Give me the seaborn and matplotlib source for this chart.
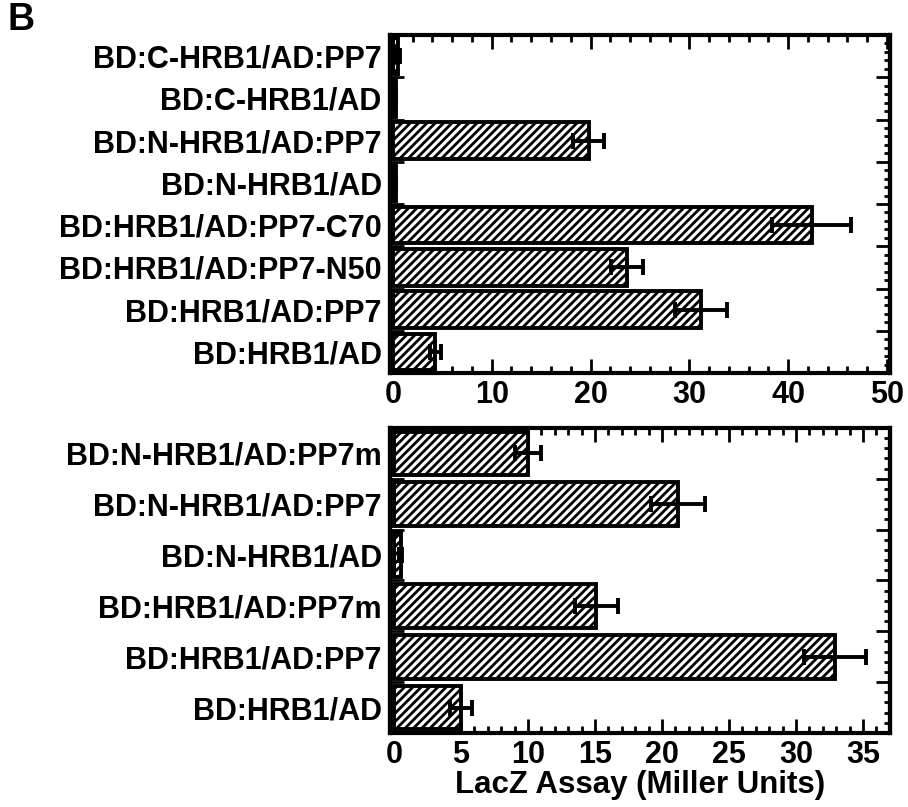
import numpy as np
import pandas as pd
import matplotlib
matplotlib.use("Agg")
import matplotlib.pyplot as plt
import seaborn as sns
from matplotlib.ticker import MultipleLocator

sns.set_style("white")
plt.rcParams['font.family'] = ['Liberation Sans', 'DejaVu Sans']
plt.rcParams['font.weight'] = 'bold'
plt.rcParams['hatch.linewidth'] = 2.0
plt.rcParams['text.color'] = 'black'
plt.rcParams['axes.labelcolor'] = 'black'
plt.rcParams['xtick.color'] = 'black'
plt.rcParams['ytick.color'] = 'black'

# ---- data ----
top_labels = ["BD:C-HRB1/AD:PP7", "BD:C-HRB1/AD", "BD:N-HRB1/AD:PP7", "BD:N-HRB1/AD",
              "BD:HRB1/AD:PP7-C70", "BD:HRB1/AD:PP7-N50", "BD:HRB1/AD:PP7", "BD:HRB1/AD"]
top_vals = [0.5, 0.3, 19.8, 0.3, 42.4, 23.7, 31.2, 4.3]
top_errs = [0.2, 0.0, 1.6, 0.0, 4.0, 1.6, 2.6, 0.6]

bot_labels = ["BD:N-HRB1/AD:PP7m", "BD:N-HRB1/AD:PP7", "BD:N-HRB1/AD",
              "BD:HRB1/AD:PP7m", "BD:HRB1/AD:PP7", "BD:HRB1/AD"]
bot_vals = [10.0, 21.2, 0.5, 15.1, 32.9, 5.0]
bot_errs = [1.0, 2.0, 0.1, 1.6, 2.3, 0.8]

xlabel = "LacZ Assay (Miller Units)"

FS = 22

fig = plt.figure(figsize=(9.08, 8.07), dpi=100)
ax1 = fig.add_axes([0.4295, 0.5378, 0.5505, 0.4188])
ax2 = fig.add_axes([0.4295, 0.0917, 0.5505, 0.3780])


def draw(ax, labels, vals, errs, xlim, major, minor):
    df = pd.DataFrame({"label": labels, "value": vals})
    sns.barplot(data=df, x="value", y="label", orient="h", color="white",
                edgecolor="black", linewidth=2.8, hatch="////", width=0.86,
                errorbar=None, ax=ax)
    n = len(labels)
    ax.errorbar(vals, np.arange(n), xerr=errs, fmt="none", ecolor="black",
                elinewidth=2.8, capsize=6, capthick=2.8, zorder=5)
    ax.set_xlim(*xlim)
    ax.set_ylim(n - 0.5, -0.5)
    ax.set_ylabel("")
    ax.set_xlabel("")
    for s in ax.spines.values():
        s.set_visible(True)
        s.set_linewidth(3)
        s.set_color("black")
    ax.xaxis.set_major_locator(MultipleLocator(major))
    ax.xaxis.set_minor_locator(MultipleLocator(minor))
    ax.tick_params(axis="x", which="both", direction="in", top=True, bottom=True,
                   labelsize=FS, pad=5, color="black", labelcolor="black", width=2)
    ax.tick_params(axis="x", which="major", length=10)
    ax.tick_params(axis="x", which="minor", length=5)
    for t in ax.get_xticklabels():
        t.set_fontweight("bold")
    ax.tick_params(axis="y", which="major", length=0, labelsize=FS, pad=6,
                   labelcolor="black")
    for t in ax.get_yticklabels():
        t.set_fontweight("bold")
    bounds = np.arange(n - 1) + 0.5
    fine = np.arange(-0.5, n - 0.5 + 1e-9, 0.2)
    for side in ("left", "right"):
        sec = ax.secondary_yaxis(side)
        sec.set_yticks(bounds)
        sec.set_yticks(fine, minor=True)
        sec.spines[side].set_linewidth(3)
        sec.tick_params(axis="y", which="both", direction="in", width=2,
                        color="black", labelleft=False, labelright=False)
        sec.tick_params(axis="y", which="major", length=10)
        sec.tick_params(axis="y", which="minor", length=4)


draw(ax1, top_labels, top_vals, top_errs, (-0.3, 50.3), 10, 2)
draw(ax2, bot_labels, bot_vals, bot_errs, (-0.3, 37.0), 5, 1)
ax2.set_xlabel(xlabel, fontsize=FS + 0.5, fontweight="bold", labelpad=0,
               color="black")

fig.text(0.008, 0.998, "B", fontsize=27, fontweight="bold", va="top", ha="left",
         color="black")

fig.savefig("out.png", dpi=100)
